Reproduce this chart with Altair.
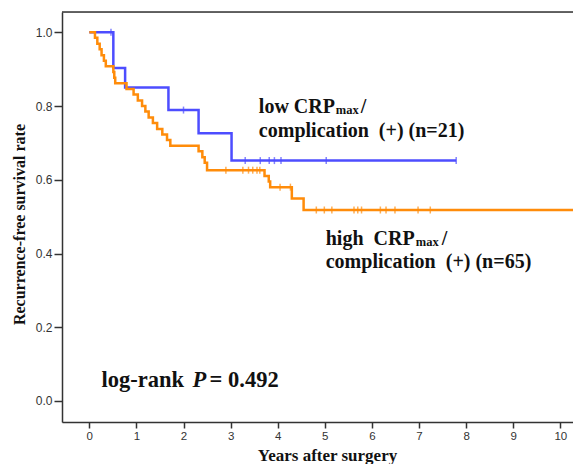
import altair as alt
import pandas as pd

# ---- data ----
blue_t = [0.0, 0.51, 0.76, 1.68, 2.32, 3.02, 7.79]
blue_s = [1.0, 0.903, 0.850, 0.789, 0.726, 0.652, 0.652]
blue_censor = [0.46, 2.00, 3.31, 3.63, 3.82, 3.93, 4.07, 5.03, 7.79]

orange_t = [0.0, 0.12, 0.17, 0.22, 0.26, 0.31, 0.35, 0.51, 0.53, 0.55, 0.79,
            0.94, 1.03, 1.12, 1.19, 1.26, 1.35, 1.44, 1.55, 1.65, 1.72, 2.32,
            2.40, 2.45, 2.50, 3.72, 3.81, 3.84, 4.30, 4.55, 10.27]
orange_s = [1.0, 0.985, 0.969, 0.954, 0.938, 0.923, 0.908, 0.892, 0.877, 0.862,
            0.846, 0.831, 0.815, 0.800, 0.785, 0.769, 0.754, 0.738, 0.723, 0.708,
            0.692, 0.677, 0.661, 0.646, 0.626, 0.610, 0.595, 0.580, 0.549, 0.518,
            0.518]
orange_censor = [2.90, 3.26, 3.38, 3.47, 3.56, 3.62, 4.05, 4.27, 4.82, 4.99,
                 5.15, 5.62, 5.70, 5.78, 6.18, 6.30, 6.49, 6.98, 7.24]

groups = ["low", "high"]
colors = ["#4d4dff", "#ff8c0a"]

x_ticks = [0, 1, 2, 3, 4, 5, 6, 7, 8, 9, 10]
y_ticks = [0.0, 0.2, 0.4, 0.6, 0.8, 1.0]

W, H = 511, 410
X_DOM = [-0.58, 10.27]
Y_DOM = [-0.057, 1.055]


def level_at(ts, ss, t):
    v = ss[0]
    for ti, si in zip(ts, ss):
        if ti <= t:
            v = si
    return v


curve_low = pd.DataFrame({"g": "low", "t": blue_t, "s": blue_s})
curve_high = pd.DataFrame({"g": "high", "t": orange_t, "s": orange_s})
cens = pd.DataFrame(
    [{"g": "low", "t": t, "s": level_at(blue_t, blue_s, t)} for t in blue_censor]
    + [{"g": "high", "t": t, "s": level_at(orange_t, orange_s, t)} for t in orange_censor]
)

xs = alt.Scale(domain=X_DOM, nice=False, zero=False)
ys = alt.Scale(domain=Y_DOM, nice=False, zero=False)
cs = alt.Scale(domain=groups, range=colors)

AX = dict(domainColor="#333333", domainWidth=1.5, tickColor="#333333", tickWidth=1.5,
          labelFont="Liberation Sans", labelColor="#333333", grid=False,
          titleFont="Liberation Serif", titleFontWeight="bold", titleColor="#111111")

x_enc = alt.X("t:Q", scale=xs, axis=alt.Axis(
    values=x_ticks, format="d", tickSize=6, labelPadding=2, labelFontSize=11.5,
    title="Years after surgery", titleFontSize=17, titleX=265, titleY=38,
    titleBaseline="alphabetic", titleAnchor="start", titleAlign="center", **AX))
y_enc = alt.Y("s:Q", scale=ys, axis=alt.Axis(
    values=y_ticks, format=".1f", tickSize=8, labelPadding=2, labelFontSize=12,
    title="Recurrence-free survival rate", titleFontSize=16, titleX=-43, titleY=212,
    titleAngle=-90, titleAlign="center", titleBaseline="middle", titleAnchor="start", **AX))

color = alt.Color("g:N", scale=cs, legend=None)
X = alt.X("t:Q", scale=xs)
Y = alt.Y("s:Q", scale=ys)

line_low = alt.Chart(curve_low).mark_line(interpolate="step-after", strokeWidth=2.5, clip=True).encode(
    x=x_enc, y=y_enc, color=color)
line_high = alt.Chart(curve_high).mark_line(interpolate="step-after", strokeWidth=2.5, clip=True).encode(
    x=X, y=Y, color=color)
ticks = alt.Chart(cens).mark_tick(orient="vertical", size=7, thickness=1.5).encode(
    x=X, y=Y, color=color)

# annotation anchors (data units) and texts
main_lbl = pd.DataFrame({
    "t": [3.60, 3.60, 5.02, 5.02],
    "s": [0.780, 0.717, 0.423, 0.360],
    "txt": ["low CRP", "complication\u00a0\u00a0(+) (n=21)", "high\u00a0\u00a0CRP",
            "complication\u00a0\u00a0(+) (n=65)"],
})
sub_lbl = pd.DataFrame({"t": [3.60, 5.02], "s": [0.780, 0.423], "txt": ["max", "max"]})
slash_lbl = pd.DataFrame({"t": [3.60, 5.02], "s": [0.780, 0.423], "txt": ["/", "/"]})

TXT = dict(font="Liberation Serif", fontWeight="bold", color="#111111", align="left",
           baseline="alphabetic")
t_main = alt.Chart(main_lbl).mark_text(fontSize=20, **TXT).encode(x=X, y=Y, text="txt:N")
t_sub_low = alt.Chart(sub_lbl.iloc[[0]]).mark_text(fontSize=12.5, dx=77, dy=1, **TXT).encode(
    x=X, y=Y, text="txt:N")
t_sub_high = alt.Chart(sub_lbl.iloc[[1]]).mark_text(fontSize=12.5, dx=90, dy=1, **TXT).encode(
    x=X, y=Y, text="txt:N")
t_sl_low = alt.Chart(slash_lbl.iloc[[0]]).mark_text(fontSize=20, dx=102, **TXT).encode(
    x=X, y=Y, text="txt:N")
t_sl_high = alt.Chart(slash_lbl.iloc[[1]]).mark_text(fontSize=20, dx=116, **TXT).encode(
    x=X, y=Y, text="txt:N")

lr = pd.DataFrame({"t": [0.26], "s": [0.037]})
t_lr1 = alt.Chart(lr).mark_text(fontSize=22.5, text="log-rank", **TXT).encode(x=X, y=Y)
t_lr2 = alt.Chart(lr).mark_text(fontSize=22.5, text="P", fontStyle="italic", dx=91, **TXT).encode(x=X, y=Y)
t_lr3 = alt.Chart(lr).mark_text(fontSize=22.5, text="= 0.492", dx=108, **TXT).encode(x=X, y=Y)

frame_top = alt.Chart(pd.DataFrame({"a": [0]})).mark_rule(color="#333333", strokeWidth=1.5).encode(
    x=alt.value(0), x2=alt.value(W), y=alt.value(0))

chart = alt.layer(
    line_low, line_high, ticks, t_main, t_sub_low, t_sub_high, t_sl_low, t_sl_high,
    t_lr1, t_lr2, t_lr3, frame_top,
).properties(
    width=W, height=H,
    autosize=alt.AutoSizeParams(type="none"),
    padding={"left": 54, "top": 4, "right": 0, "bottom": 42},
).configure_view(stroke=None).configure(background="white")

chart.save("out.html", embed_options={"renderer": "svg", "actions": False})
